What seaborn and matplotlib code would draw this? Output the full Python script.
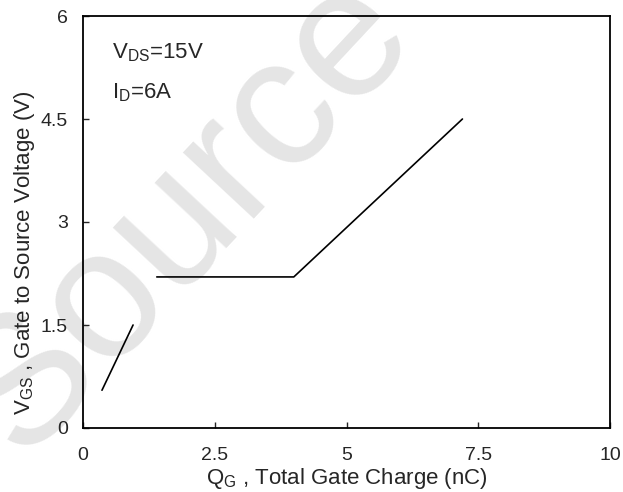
import pandas as pd
import matplotlib
matplotlib.use("Agg")
import matplotlib.pyplot as plt
import seaborn as sns

# gate charge curve
seg_id = [1, 1, 2, 2, 2]
qg_nc = [0.36, 0.95, 1.40, 4.00, 7.20]
vgs_v = [0.55, 1.50, 2.20, 2.20, 4.50]

x_ticks = [0, 2.5, 5, 7.5, 10]
x_labels = ["0", "2.5", "5", "7.5", "10"]
y_ticks = [0, 1.5, 3, 4.5, 6]
y_labels = ["0", "1.5", "3", "4.5", "6"]

df = pd.DataFrame({"seg": seg_id, "qg": qg_nc, "vgs": vgs_v})

sns.set_style("ticks")
plt.rcParams["font.family"] = ["Liberation Sans", "DejaVu Sans"]
plt.rcParams["mathtext.fontset"] = "custom"
plt.rcParams["mathtext.rm"] = "Liberation Sans"

fig = plt.figure(figsize=(6.23, 4.92), dpi=100)
ax = fig.add_axes([83 / 623, 1 - 428 / 492, 527 / 623, 412 / 492])
ax.patch.set_alpha(0)
ax.set_zorder(2)

# watermark behind the plot
fig.text(185 / 623, 1 - 215 / 492, "Source", fontsize=132, rotation=47,
         color="#e5e5e5", ha="center", va="center", zorder=0)

sns.lineplot(data=df, x="qg", y="vgs", units="seg", estimator=None,
             color="black", linewidth=1.2, ax=ax)

ax.set_xlim(0, 10)
ax.set_ylim(0, 6)
ax.set_xticks(x_ticks)
ax.set_xticklabels(x_labels)
ax.set_yticks(y_ticks)
ax.set_yticklabels(y_labels)
ax.tick_params(axis="both", direction="in", length=4, width=1, labelsize=14)
ax.tick_params(axis="x", pad=14)
ax.tick_params(axis="y", pad=11)
for s in ax.spines.values():
    s.set_visible(True)
    s.set_linewidth(1.3)
    s.set_color("black")

ax.set_xlabel(r"$\mathrm{Q_G}$ , Total Gate Charge (nC)", fontsize=16)
ax.set_ylabel(r"$\mathrm{V_{GS}}$ , Gate to Source Voltage (V)", fontsize=16)
ax.xaxis.set_label_coords(0.5, -0.093)
ax.yaxis.set_label_coords(-0.087, 0.425)

ax.text(0.55, 5.46, r"$\mathrm{V_{DS}}$=15V", fontsize=16, va="center")
ax.text(0.55, 4.89, r"$\mathrm{I_D}$=6A", fontsize=16, va="center")

fig.savefig("out.png", dpi=100)
